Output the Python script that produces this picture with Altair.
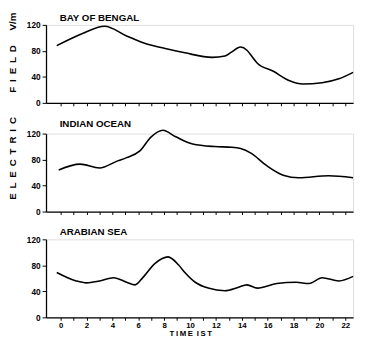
import altair as alt
import pandas as pd

# Bay of Bengal
bob_h = [-0.3, 1.6, 3.4, 5.1, 6.6, 8.0, 9.6, 11.7, 12.7, 13.2, 13.9, 14.4, 14.8, 15.2, 16.4, 17.7, 18.7, 20.2, 21.5, 22.6]
bob_v = [88, 106, 118, 103, 91, 84, 77, 70, 72, 78, 86, 81, 71, 61, 49, 34, 29, 31, 37, 47]

# Indian Ocean
io_h = [-0.15, 1.5, 3.0, 4.4, 5.1, 6.1, 7.0, 7.9, 8.9, 10.2, 11.9, 13.2, 13.9, 14.7, 15.9, 17.2, 18.4, 20.7, 22.6]
io_v = [64, 73, 67, 78, 83, 93, 115, 125, 115, 104, 100, 99, 97, 90, 71, 56, 52, 55, 52]

# Arabian Sea
as_h = [-0.3, 1.2, 2.0, 3.0, 4.1, 5.1, 5.75, 6.3, 7.3, 8.3, 9.1, 9.6, 10.4, 11.4, 12.7, 13.7, 14.4, 15.2, 16.7, 18.2, 19.2, 20.2, 21.5, 22.6]
as_v = [69, 56, 53, 56, 61, 54, 50, 60, 83, 93, 81, 69, 54, 45, 41, 46, 50, 45, 52, 54, 52, 61, 56, 63]

panel_names = ["BAY OF BENGAL", "INDIAN OCEAN", "ARABIAN SEA"]
x_ticks = list(range(0, 23))
y_ticks = [0, 40, 80, 120]
EN = "\u2002"
TH = "\u2009"
x_title = TH.join(list("TIME")) + EN + TH.join(list("IST"))
y_title = EN.join(list("ELECTRIC")) + EN * 5 + EN.join(list("FIELD")) + EN * 3 + "V/m"

FONT = "Liberation Sans"


def make_panel(h, v, name, bottom):
    df = pd.DataFrame({"hour": h, "value": v})
    xkw = dict(values=x_ticks, grid=False, domainColor="black", tickColor="black",
               tickSize=3, domainWidth=1.3, tickWidth=1)
    if bottom:
        xkw.update(labels=True, labelExpr="datum.value % 2 == 0 ? datum.label : ''",
                   labelFontSize=8, labelFont=FONT, labelFontWeight="bold", labelColor="black",
                   labelPadding=1, title=x_title, titleFontSize=8, titleFont=FONT,
                   titleFontWeight="bold", titleColor="black", titlePadding=1, titleX=148)
    else:
        xkw.update(labels=False, title=None)
    chart = alt.Chart(df).mark_line(color="black", strokeWidth=1.6, interpolate="monotone").encode(
        x=alt.X("hour:Q", scale=alt.Scale(domain=[-1.13, 22.6], nice=False, zero=False), axis=alt.Axis(**xkw)),
        y=alt.Y("value:Q", scale=alt.Scale(domain=[0, 120], nice=False),
                axis=alt.Axis(values=y_ticks, grid=False, title=None, domainColor="black", tickColor="black",
                              tickSize=4, domainWidth=1.3, labelFontSize=8.5, labelFont=FONT,
                              labelFontWeight="bold", labelColor="black", labelPadding=2)),
    ).properties(
        width=315, height=80,
        title=alt.TitleParams(name, anchor="start", frame="group", dx=14, fontSize=10, font=FONT,
                              fontWeight="bold", color="black", offset=-2),
    )
    return chart


p1 = make_panel(bob_h, bob_v, panel_names[0], False)
p2 = make_panel(io_h, io_v, panel_names[1], False)
p3 = make_panel(as_h, as_v, panel_names[2], True)

chart = alt.vconcat(
    p1, p2, p3, spacing=10.5,
    title=alt.TitleParams(y_title, orient="left", anchor="end", fontSize=10, font=FONT,
                          fontWeight="bold", color="black", offset=8),
).configure_view(stroke="transparent").configure(background="white", padding=0)

chart.save("out.html", embed_options={"renderer": "svg", "actions": False})
